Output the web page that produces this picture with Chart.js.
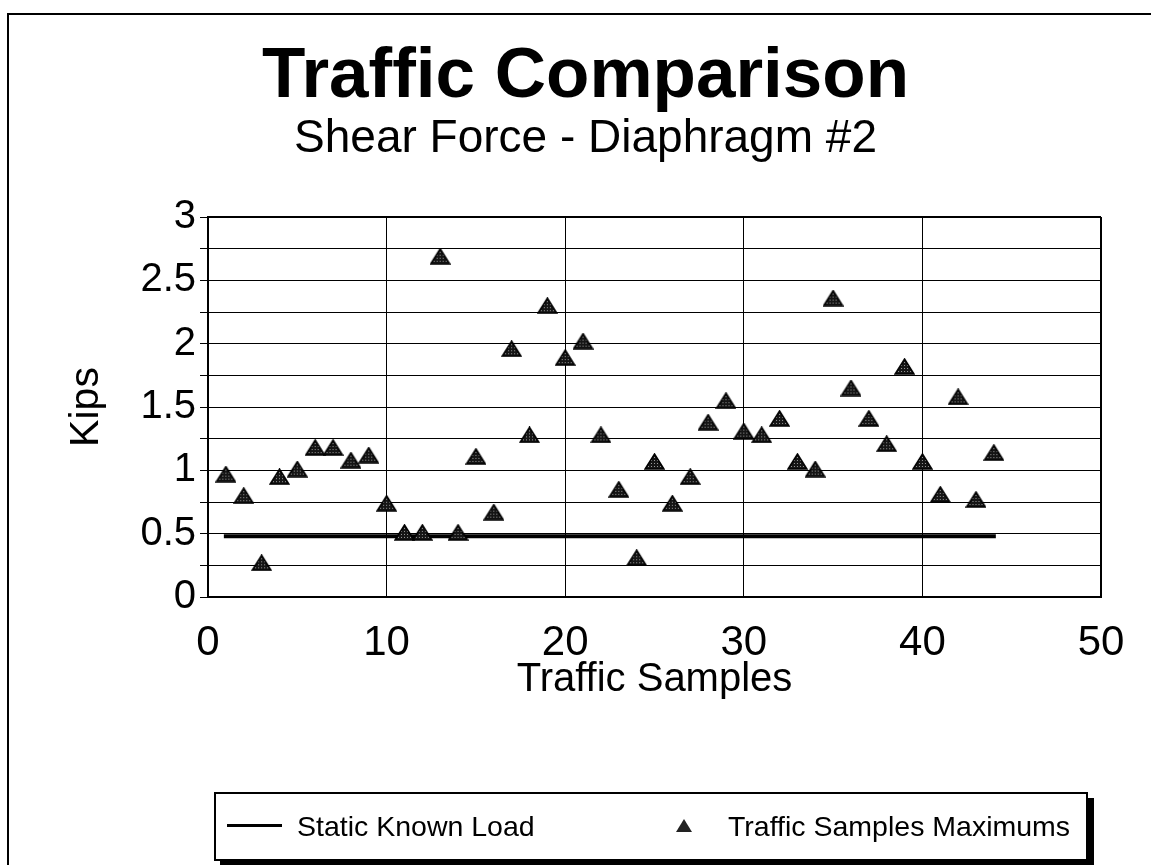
<!DOCTYPE html>
<html>
<head>
<meta charset="utf-8">
<title>Traffic Comparison</title>
<script src="https://cdn.jsdelivr.net/npm/chart.js@4.4.1/dist/chart.umd.min.js"></script>
<style>
  html, body { margin: 0; padding: 0; background: #fff; overflow: hidden; }
  #wrap { position: relative; width: 1151px; height: 865px; overflow: hidden; }
  #frame { position: absolute; left: 7px; top: 13px; width: 1200px; height: 900px; border: 2px solid #000; box-sizing: border-box; }
  #chart { position: absolute; left: 0; top: 0; }
  #legend {
    position: absolute; left: 214px; top: 792px; width: 874px; height: 69px;
    border: 2px solid #000; box-sizing: border-box; background: #fff;
    box-shadow: 6px 6px 0 #000;
    font-family: "Liberation Sans", Arial, sans-serif; font-size: 28.5px; color: #000;
  }
  #legend .item { position: absolute; top: 0; height: 64px; line-height: 64px; white-space: nowrap; }
  #legend .swatch-line { position: absolute; top: 30px; height: 3px; background: #000; }
  #legend .swatch-tri {
    position: absolute; top: 25px; width: 0; height: 0;
    border-left: 8px solid transparent; border-right: 8px solid transparent; border-bottom: 13px solid #222;
  }
</style>
</head>
<body>
<div id="wrap">
  <div id="frame"></div>
  <canvas id="chart" width="1151" height="865"></canvas>
  <div id="legend"></div>
</div>
<script>
// sample number along x, peak shear force (kips) along y
const sampleNumbers = [1, 2, 3, 4, 5, 6, 7, 8, 9, 10, 11, 12, 13, 14, 15, 16, 17, 18, 19, 20, 21, 22,
  23, 24, 25, 26, 27, 28, 29, 30, 31, 32, 33, 34, 35, 36, 37, 38, 39, 40, 41, 42, 43, 44];
const sampleMaximums = [0.97, 0.80, 0.27, 0.95, 1.01, 1.18, 1.18, 1.08, 1.12, 0.74, 0.51,
  0.51, 2.69, 0.51, 1.11, 0.67, 1.96, 1.28, 2.30, 1.89, 2.02, 1.28,
  0.85, 0.31, 1.07, 0.74, 0.95, 1.38, 1.55, 1.31, 1.28, 1.41, 1.07,
  1.01, 2.36, 1.65, 1.41, 1.21, 1.82, 1.07, 0.81, 1.58, 0.77, 1.14];

// static known load, drawn as a flat line over the sample range
const staticLoadX = [1, 44];
const staticLoadY = [0.48, 0.48];

const yLabelTicks = [0, 0.5, 1, 1.5, 2, 2.5, 3];

const seriesNames = ["Static Known Load", "Traffic Samples Maximums"];

const FONT = "'Liberation Sans', Arial, sans-serif";

// stippled dark triangle used as the point marker
function makeTriangle(w, h) {
  const tile = document.createElement("canvas");
  tile.width = 3;
  tile.height = 3;
  const t = tile.getContext("2d");
  t.fillStyle = "#151515";
  t.fillRect(0, 0, 3, 3);
  t.fillStyle = "#9a9a9a";
  t.fillRect(1, 1, 1, 1);

  const c = document.createElement("canvas");
  c.width = w;
  c.height = h;
  const ctx = c.getContext("2d");
  ctx.beginPath();
  ctx.moveTo(w / 2, 1);
  ctx.lineTo(w - 1, h - 1);
  ctx.lineTo(1, h - 1);
  ctx.closePath();
  ctx.fillStyle = ctx.createPattern(tile, "repeat");
  ctx.fill();
  ctx.lineWidth = 1.5;
  ctx.strokeStyle = "#000";
  ctx.stroke();
  return c;
}

const triangle = makeTriangle(21, 17);

function renderLegend() {
  const legend = document.getElementById("legend");
  legend.innerHTML = `
    <span class="swatch-line" style="left:11px;width:55px"></span>
    <span class="item" style="left:81px">${seriesNames[0]}</span>
    <span class="swatch-tri" style="left:460px"></span>
    <span class="item" style="left:512px">${seriesNames[1]}</span>
  `;
}

renderLegend();

new Chart(document.getElementById("chart"), {
  type: "scatter",
  data: {
    datasets: [
      {
        label: seriesNames[0],
        type: "line",
        data: staticLoadX.map((x, i) => ({ x, y: staticLoadY[i] })),
        borderColor: "#000",
        borderWidth: 4,
        borderCapStyle: "square",
        pointRadius: 0,
        fill: false,
        order: 1
      },
      {
        label: seriesNames[1],
        data: sampleNumbers.map((x, i) => ({ x, y: sampleMaximums[i] })),
        pointStyle: triangle,
        pointRadius: 10,
        order: 0
      }
    ]
  },
  options: {
    responsive: false,
    animation: false,
    events: [],
    // left padding moves the title block's centre to the right
    layout: { padding: { left: 70, right: 50, top: 0, bottom: 158 } },
    plugins: {
      legend: { display: false },
      tooltip: { enabled: false },
      title: {
        display: true,
        text: "Traffic Comparison",
        color: "#000",
        font: { family: FONT, size: 71, weight: "bold", lineHeight: 1 },
        padding: { top: 42, bottom: 0 }
      },
      subtitle: {
        display: true,
        text: "Shear Force - Diaphragm #2",
        color: "#000",
        font: { family: FONT, size: 46, weight: "normal", lineHeight: 1 },
        padding: { top: 3, bottom: 55 }
      }
    },
    scales: {
      x: {
        type: "linear",
        min: 0,
        max: 50,
        afterFit: scale => { scale.height = 110; },
        ticks: {
          stepSize: 10,
          color: "#000",
          padding: 21,
          font: { family: FONT, size: 42 }
        },
        grid: { color: "#000", lineWidth: 1, drawTicks: false },
        border: { color: "#000", width: 2 },
        title: {
          display: true,
          text: "Traffic Samples",
          color: "#000",
          font: { family: FONT, size: 40 },
          padding: { top: 0, bottom: 3 }
        }
      },
      y: {
        min: 0,
        max: 3,
        afterFit: scale => { scale.width = 138; },
        ticks: {
          stepSize: 0.25,
          autoSkip: false,
          color: "#000",
          padding: 4,
          font: { family: FONT, size: 40 },
          callback: value => (yLabelTicks.includes(value) ? value : "")
        },
        grid: { color: "#000", lineWidth: 1, tickLength: 8, tickColor: "#000" },
        border: { color: "#000", width: 2 },
        title: {
          display: true,
          text: "Kips",
          color: "#000",
          font: { family: FONT, size: 41, lineHeight: 0.8 },
          padding: { top: 0, bottom: 0 }
        }
      }
    }
  },
  plugins: [{
    // closing lines along the top and right edges of the plot area
    id: "plotFrame",
    afterDraw(chart) {
      const { ctx, chartArea } = chart;
      ctx.save();
      ctx.strokeStyle = "#000";
      ctx.lineWidth = 2;
      ctx.beginPath();
      ctx.moveTo(chartArea.right, chartArea.top);
      ctx.lineTo(chartArea.right, chartArea.bottom);
      ctx.moveTo(chartArea.left, chartArea.top);
      ctx.lineTo(chartArea.right, chartArea.top);
      ctx.stroke();
      ctx.restore();
    }
  }]
});
</script>
</body>
</html>
